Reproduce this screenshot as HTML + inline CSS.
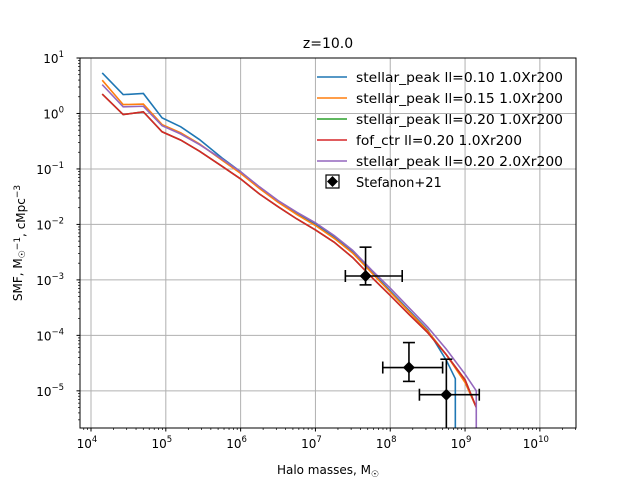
<!DOCTYPE html>
<html><head><meta charset="utf-8"><style>
body{margin:0;background:#fff}
svg{font-family:"DejaVu Sans","Liberation Sans",sans-serif}
</style></head><body>
<svg id="chart" width="640" height="480" viewBox="0 0 640 480" xmlns="http://www.w3.org/2000/svg">
<rect width="640" height="480" fill="#fff"/>
<g id="grid"></g>
<g id="series"></g>
<g id="points"></g>
<rect x="80" y="58" width="496" height="370" fill="none" stroke="#000" stroke-width="1"/>
<g id="axes"></g>
<text x="328" y="48" text-anchor="middle" font-size="14">z=10.0</text>
<text x="328" y="474" text-anchor="middle" font-size="12">Halo masses, M<tspan font-size="9" dy="3">☉</tspan></text>
<text transform="translate(22,243) rotate(-90)" text-anchor="middle" font-size="12">SMF, M<tspan font-size="9" dy="3">☉</tspan><tspan dy="-3"></tspan><tspan font-size="9" dy="-5">−1</tspan><tspan dy="5">, cMpc</tspan><tspan font-size="9" dy="-5">−3</tspan></text>
<g id="legend"></g>
</svg>
<script>
const xLog=[4.15,4.43,4.7,4.95,5.2,5.45,5.75,6.0,6.25,6.5,6.75,7.0,7.25,7.5,7.75,8.0,8.25,8.5,8.75,9.0,9.15];
const seriesNames=["stellar_peak ll=0.10 1.0Xr200","stellar_peak ll=0.15 1.0Xr200","stellar_peak ll=0.20 1.0Xr200","fof_ctr ll=0.20 1.0Xr200","stellar_peak ll=0.20 2.0Xr200"];
const seriesColors=["#1f77b4","#ff7f0e","#2ca02c","#d62728","#9467bd"];
const blueY=[0.73,0.34,0.36,-0.08,-0.24,-0.47,-0.8,-1.05,-1.33,-1.58,-1.8,-2.0,-2.22,-2.5,-2.85,-3.2,-3.55,-3.9,-4.45];
const orangeY=[0.6,0.16,0.17,-0.2,-0.35,-0.55,-0.84,-1.08,-1.35,-1.6,-1.82,-2.02,-2.25,-2.52,-2.87,-3.22,-3.57,-3.92,-4.35,-4.85,-5.3];
const greenY=[0.35,-0.02,0.03,-0.33,-0.48,-0.68,-0.95,-1.18,-1.45,-1.68,-1.9,-2.1,-2.32,-2.6,-2.95,-3.28,-3.62,-3.95,-4.35,-4.8,-5.3];
const redY=[0.35,-0.02,0.03,-0.33,-0.48,-0.68,-0.95,-1.18,-1.45,-1.68,-1.9,-2.1,-2.32,-2.6,-2.95,-3.28,-3.62,-3.95,-4.35,-4.8,-5.3];
const purpleY=[0.52,0.12,0.13,-0.22,-0.37,-0.56,-0.82,-1.05,-1.32,-1.57,-1.78,-1.97,-2.2,-2.47,-2.82,-3.15,-3.5,-3.85,-4.25,-4.7,-5.0];
const obsX=[7.67,8.25,8.75];
const obsY=[-2.93,-4.58,-5.07];
const obsXlo=[7.4,7.9,8.39];
const obsXhi=[8.16,8.7,9.19];
const obsYlo=[-3.09,-4.83,-6.0];
const obsYhi=[-2.41,-4.13,-4.43];
const xTicks=[4,5,6,7,8,9,10];
const yTicks=[1,0,-1,-2,-3,-4,-5];
const X0=80,X1=576,Y0=58,Y1=428,LX0=3.853,LX1=10.483,LY0=-5.67,LY1=1.0;
const sx=v=>X0+(v-LX0)/(LX1-LX0)*(X1-X0);
const sy=v=>Y1-(v-LY0)/(LY1-LY0)*(Y1-Y0);
const NS="http://www.w3.org/2000/svg";
function mk(t,a,p){const e=document.createElementNS(NS,t);for(const k in a)e.setAttribute(k,a[k]);p.appendChild(e);return e;}
const grid=document.getElementById('grid'),axes=document.getElementById('axes');
xTicks.forEach(t=>{const x=sx(t);
 const g=mk('line',{x1:x,x2:x,y1:Y0,y2:Y1,stroke:'#b0b0b0','stroke-width':1},grid);
 
 mk('line',{x1:x,x2:x,y1:Y1,y2:Y1+3.5,stroke:'#000'},axes);
 const tx=mk('text',{x:x-4,y:Y1+20,'text-anchor':'middle','font-size':12},axes);
 
 tx.innerHTML='10<tspan font-size="8.5" dy="-6">'+t+'</tspan>';
 for(let m=2;m<10;m++){const xm=sx(t+Math.log10(m));if(xm<X1&&xm>X0)mk('line',{x1:xm,x2:xm,y1:Y1,y2:Y1+2,stroke:'#000','stroke-width':0.7},axes);}
 if(t===4)for(let m=7;m<10;m++){const xm=sx(3+Math.log10(m));if(xm>X0)mk('line',{x1:xm,x2:xm,y1:Y1,y2:Y1+2,stroke:'#000','stroke-width':0.7},axes);}
});
yTicks.forEach(t=>{const y=sy(t);
 const g=mk('line',{x1:X0,x2:X1,y1:y,y2:y,stroke:'#b0b0b0','stroke-width':1},grid);
 
 mk('line',{x1:X0-3.5,x2:X0,y1:y,y2:y,stroke:'#000'},axes);
 const tx=mk('text',{x:X0-16,y:y+5,'text-anchor':'end','font-size':12},axes);
 
 tx.innerHTML='10<tspan font-size="8.5" dy="-6">'+(t<0?'−'+(-t):t)+'</tspan>';
 for(let m=2;m<10;m++){const ym=sy(t-1+Math.log10(m));if(ym<Y1&&ym>Y0)mk('line',{x1:X0-2,x2:X0,y1:ym,y2:ym,stroke:'#000','stroke-width':0.7},axes);}
});
const sg=document.getElementById('series');
const allY=[blueY,orangeY,greenY,redY,purpleY];
const drop=[true,false,false,false,true];
allY.forEach((ys,i)=>{
 let pts=ys.map((v,j)=>sx(xLog[j])+','+sy(v));
 if(i===0){pts.push(sx(8.87)+','+sy(-4.78));pts.push(sx(8.87)+','+Y1);}
 else if(drop[i]){pts.push(sx(xLog[ys.length-1])+','+Y1);}
 const p=mk('polyline',{points:pts.join(' '),fill:'none',stroke:seriesColors[i],'stroke-width':1.6},sg);
 
});
const pg=document.getElementById('points');
const clip=v=>Math.min(sy(v),Y1);
obsX.forEach((v,i)=>{
 const x=sx(v),y=sy(obsY[i]);
 const g=mk('g',{},pg);
 const a=sx(obsXlo[i]),b=sx(obsXhi[i]),c=clip(obsYlo[i]),d=sy(obsYhi[i]);
 mk('line',{x1:a,x2:b,y1:y,y2:y,stroke:'#000','stroke-width':1.6},g);
 mk('line',{x1:x,x2:x,y1:c,y2:d,stroke:'#000','stroke-width':1.6},g);
 [a,b].forEach(q=>mk('line',{x1:q,x2:q,y1:y-6,y2:y+6,stroke:'#000','stroke-width':1.6},g));
 [c,d].forEach(q=>{if(q<Y1)mk('line',{x1:x-6,x2:x+6,y1:q,y2:q,stroke:'#000','stroke-width':1.6},g);});
 mk('polygon',{points:`${x},${y-6} ${x+6},${y} ${x},${y+6} ${x-6},${y}`,fill:'#000'},g);
});
const lg=document.getElementById('legend');
seriesNames.forEach((n,i)=>{const y=78+i*21;
 const g=mk('g',{},lg);
 mk('line',{x1:317,x2:347,y1:y-1,y2:y-1,stroke:seriesColors[i],'stroke-width':1.6},g);
 const t=mk('text',{x:356,y:y+4,'font-size':13,'textLength':207,'lengthAdjust':'spacingAndGlyphs'},g);t.textContent=n;
 if(i===3)t.setAttribute('textLength',166);
});
const g=mk('g',{},lg);
mk('rect',{x:326,y:175,width:13,height:13,fill:'none',stroke:'#000','stroke-width':1.2},g);
mk('polygon',{points:'332.5,176 338,181.5 332.5,187 327,181.5',fill:'#000'},g);
const t=mk('text',{x:356,y:187,'font-size':13},g);t.textContent='Stefanon+21';
</script>
</body></html>
